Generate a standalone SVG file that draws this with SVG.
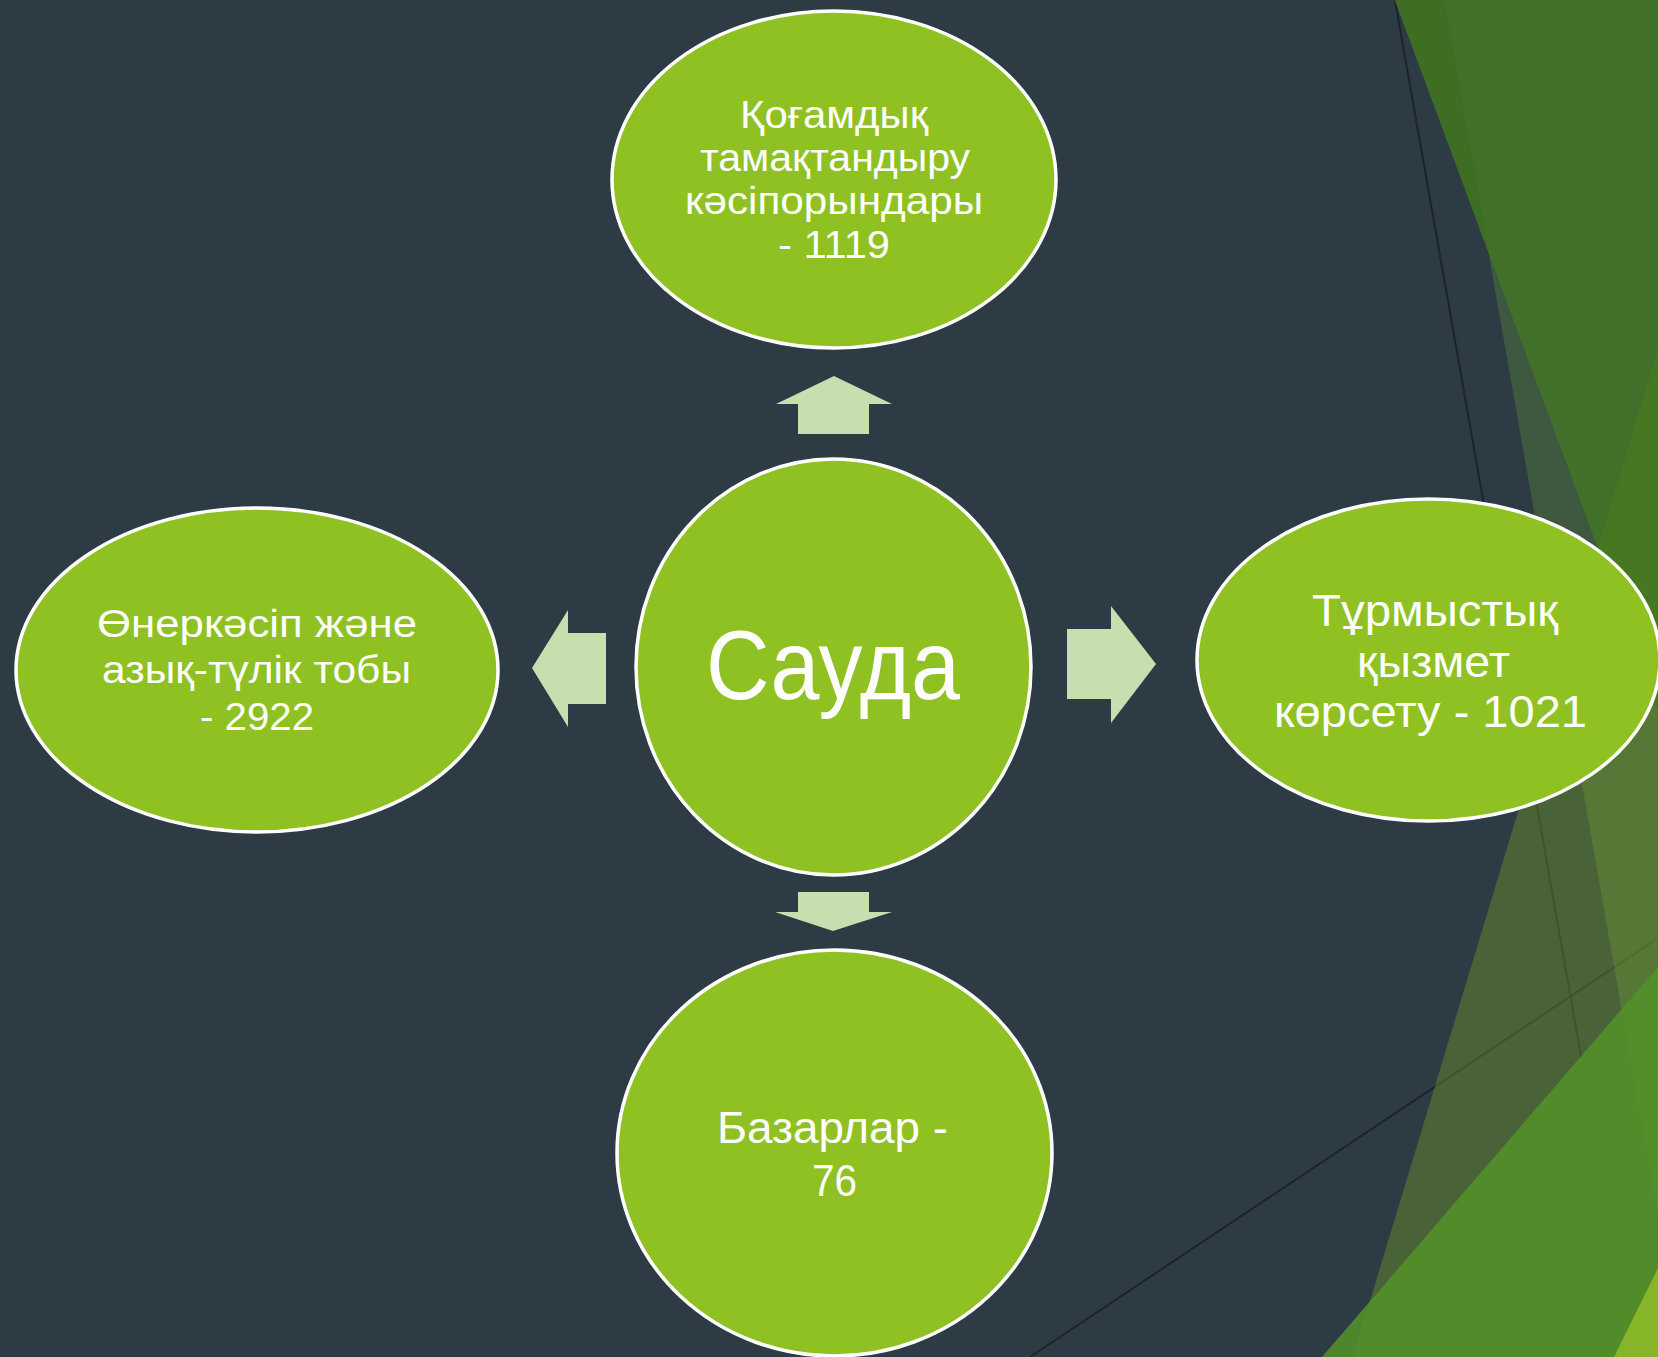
<svg xmlns="http://www.w3.org/2000/svg" width="1658" height="1357" viewBox="0 0 1658 1357">
<style>
.node{fill:#90C123;stroke:#FFFFFF;stroke-width:3.5}
.arrow{fill:#C5DFAE}
.t{fill:#FFFFFF;font-family:"Liberation Sans","Noto Sans","DejaVu Sans",sans-serif;font-size:38px}
.tr{fill:#FFFFFF;font-family:"Liberation Sans","Noto Sans","DejaVu Sans",sans-serif;font-size:44px}
.tc{fill:#FFFFFF;font-family:"Liberation Sans","Noto Sans","DejaVu Sans",sans-serif;font-size:98px}
.ln{stroke:#1E2427;stroke-width:2;fill:none}
</style>
<g id="background">
<rect x="0" y="0" width="1658" height="1357" fill="#2C3B44"/>
<line class="ln" x1="1395" y1="0" x2="1634" y2="1357"/>
<line class="ln" x1="1030" y1="1357" x2="1658" y2="938"/>
<polygon points="1658,349 1353,1357 1658,1357" fill="#779D27" fill-opacity="0.4"/>
<polygon points="1444,0 1658,0 1658,1216" fill="#8BCC30" fill-opacity="0.2"/>
<polygon points="1395,0 1658,0 1658,711" fill="#41702A"/>
<polygon points="1395,0 1444,0 1489,253" fill="#3E6E23"/>
<polygon points="1658,349 1598,548 1658,711" fill="#467822"/>
<polygon points="1658,967 1322,1357 1658,1357" fill="#529029" fill-opacity="0.9"/>
<polygon points="1658,1268 1614,1357 1658,1357" fill="#86B628"/>
</g>
<g id="connectors">
<polygon class="arrow" points="834,376 892,404 869,404 869,434 798,434 798,404 776,404"/>
<polygon class="arrow" points="532,668 568,610 568,633 606,633 606,704 568,704 568,727"/>
<polygon class="arrow" points="1156,664 1111,606 1111,629 1067,629 1067,699 1111,699 1111,723"/>
<polygon class="arrow" points="833,931 892,912 869,912 869,892 798,892 798,912 775,912"/>
</g>
<g id="node-top">
<ellipse class="node" cx="834" cy="179.5" rx="222" ry="168.5"/>
<text class="t" x="740" y="128" textLength="188" lengthAdjust="spacingAndGlyphs">Қоғамдық</text>
<text class="t" x="700" y="171" textLength="270" lengthAdjust="spacingAndGlyphs">тамақтандыру</text>
<text class="t" x="685" y="214" textLength="298" lengthAdjust="spacingAndGlyphs">кәсіпорындары</text>
<text class="t" x="778" y="258" textLength="112" lengthAdjust="spacingAndGlyphs">- 1119</text>
</g>
<g id="node-center">
<ellipse class="node" cx="833.5" cy="667" rx="197.5" ry="208"/>
<text class="tc" x="706" y="699" textLength="254" lengthAdjust="spacingAndGlyphs">Сауда</text>
</g>
<g id="node-left">
<ellipse class="node" cx="257" cy="670" rx="241" ry="162"/>
<text class="t" x="97" y="637" textLength="320" lengthAdjust="spacingAndGlyphs">Өнеркәсіп және</text>
<text class="t" x="102" y="683" textLength="309" lengthAdjust="spacingAndGlyphs">азық-түлік тобы</text>
<text class="t" x="200" y="730" textLength="114" lengthAdjust="spacingAndGlyphs">- 2922</text>
</g>
<g id="node-right">
<ellipse class="node" cx="1428.5" cy="660" rx="231.5" ry="161"/>
<text class="tr" x="1312" y="626" textLength="246" lengthAdjust="spacingAndGlyphs">Тұрмыстық</text>
<text class="tr" x="1357" y="677" textLength="153" lengthAdjust="spacingAndGlyphs">қызмет</text>
<text class="tr" x="1274" y="727" textLength="313" lengthAdjust="spacingAndGlyphs">көрсету - 1021</text>
</g>
<g id="node-bottom">
<ellipse class="node" cx="834.5" cy="1153" rx="217.5" ry="203"/>
<text class="tr" x="717" y="1143" textLength="231" lengthAdjust="spacingAndGlyphs">Базарлар -</text>
<text class="tr" x="812" y="1196" textLength="45" lengthAdjust="spacingAndGlyphs">76</text>
</g>
</svg>
